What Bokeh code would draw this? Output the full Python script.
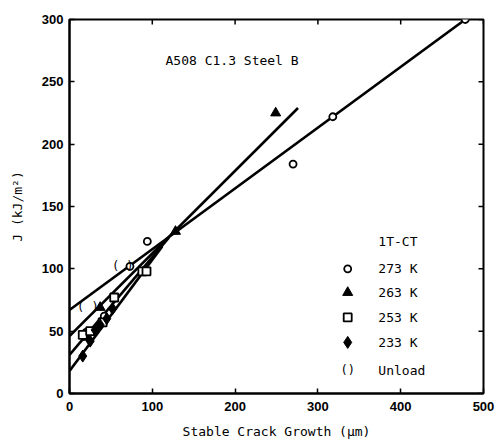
from bokeh.plotting import figure
from bokeh.models import Range1d, Label, FixedTicker
from bokeh.core.properties import value
from bokeh.embed import file_html
from bokeh.resources import INLINE

# ---- data ----
x_273 = [20, 42, 73, 94, 270, 318, 478]
y_273 = [49, 62, 102, 122, 184, 222, 300]

x_263 = [22, 37, 128, 249]
y_263 = [45, 69, 130, 225]

x_253 = [16, 25, 40, 54, 88, 93]
y_253 = [47, 50, 57, 77, 98, 98]

x_233 = [16, 25, 31, 37, 45, 52]
y_233 = [30, 42, 51, 55, 60, 68]

unload_x = [31, 73]
unload_y = [69, 102]

fit_273_x = [0, 478]
fit_273_y = [67, 300]
fit_263_x = [0, 276]
fit_263_y = [46, 229]
fit_253_x = [0, 120]
fit_253_y = [31, 125]
fit_233_x = [0, 112]
fit_233_y = [18, 118]

x_ticks = [0, 100, 200, 300, 400, 500]
y_ticks = [0, 50, 100, 150, 200, 250, 300]

legend_title = "1T-CT"
legend_labels = ["273 K", "263 K", "253 K", "233 K", "Unload"]

MONO = "DejaVu Sans Mono"
SANS = "Liberation Sans"

X0, X1, Y0, Y1 = 0, 500, 0, 300
p = figure(width=502, height=443, output_backend="svg", toolbar_location=None,
           x_range=Range1d(X0, X1), y_range=Range1d(Y0, Y1),
           min_border_left=69, min_border_right=19, min_border_top=19, min_border_bottom=50)
p.grid.visible = False
p.outline_line_color = "black"
p.outline_line_width = 2
p.background_fill_color = "white"
p.border_fill_color = "white"

for ax in (p.xaxis[0], p.yaxis[0]):
    ax.major_tick_in = 5
    ax.major_tick_out = 0
    ax.minor_tick_in = 0
    ax.minor_tick_out = 0
    ax.axis_line_width = 2
    ax.major_tick_line_width = 1.5
    ax.major_label_text_font = SANS
    ax.major_label_text_font_style = "bold"
    ax.major_label_text_font_size = "13px"
    ax.major_label_text_color = "black"
    ax.axis_label_text_font = MONO
    ax.axis_label_text_font_style = "normal"
    ax.axis_label_text_font_size = "13px"
    ax.axis_label_text_color = "black"

p.xaxis[0].ticker = FixedTicker(ticks=x_ticks)
p.yaxis[0].ticker = FixedTicker(ticks=y_ticks)
p.xaxis[0].axis_label = "Stable Crack Growth (\u03bcm)"
p.yaxis[0].axis_label = "J (kJ/m\u00b2)"
p.xaxis[0].major_label_standoff = 8
p.xaxis[0].axis_label_standoff = 10
p.yaxis[0].major_label_standoff = 6
p.yaxis[0].axis_label_standoff = 14

# inward ticks on the top and right frame edges (5 px long)
tick_dy = 5 * (Y1 - Y0) / 374.0
tick_dx = 5 * (X1 - X0) / 414.0
p.segment(x0=x_ticks, y0=[Y1] * len(x_ticks), x1=x_ticks, y1=[Y1 - tick_dy] * len(x_ticks),
          line_color="black", line_width=1.5)
p.segment(x0=[X1] * len(y_ticks), y0=y_ticks, x1=[X1 - tick_dx] * len(y_ticks), y1=y_ticks,
          line_color="black", line_width=1.5)

# fitted lines
for fx, fy in ((fit_273_x, fit_273_y), (fit_263_x, fit_263_y),
               (fit_253_x, fit_253_y), (fit_233_x, fit_233_y)):
    p.line(fx, fy, line_color="black", line_width=2.6)

# data points
p.scatter(x_273, y_273, marker="circle", size=7, fill_color="white", line_color="black", line_width=1.8)
p.scatter(x_263, y_263, marker="triangle", size=10, fill_color="black", line_color="black")
p.scatter(x_253, y_253, marker="square", size=8, fill_color="white", line_color="black", line_width=1.8)
p.scatter(x_233, y_233, marker="diamond", size=12, fill_color="black", line_color="black")
p.text(unload_x, unload_y, text=["(   )"] * len(unload_x), text_font=value(MONO),
       text_font_size="12px", text_align="center", text_baseline="middle", text_color="black")

# annotation title
p.add_layout(Label(x=116, y=267, text="A508 C1.3  Steel B", text_font=MONO,
                   text_font_size="13px", text_baseline="middle", text_color="black"))

# legend (manual)
leg_x_marker = 336
leg_x_text = 373
leg_y = [100, 81, 61, 41, 18.5]
p.add_layout(Label(x=leg_x_text, y=122, text=legend_title, text_font=MONO,
                   text_font_size="13px", text_baseline="middle", text_color="black"))
p.scatter([leg_x_marker], [leg_y[0]], marker="circle", size=7, fill_color="white", line_color="black", line_width=1.8)
p.scatter([leg_x_marker], [leg_y[1]], marker="triangle", size=10, fill_color="black", line_color="black")
p.scatter([leg_x_marker], [leg_y[2]], marker="square", size=8, fill_color="white", line_color="black", line_width=1.8)
p.scatter([leg_x_marker], [leg_y[3]], marker="diamond", size=12, fill_color="black", line_color="black")
p.text([leg_x_marker], [leg_y[4]], text=["()"], text_font=value(MONO), text_font_size="12px",
       text_align="center", text_baseline="middle", text_color="black")
for lab, ly in zip(legend_labels, leg_y):
    p.add_layout(Label(x=leg_x_text, y=ly, text=lab, text_font=MONO,
                       text_font_size="13px", text_baseline="middle", text_color="black"))

open("out.html", "w").write(file_html(p, INLINE))
